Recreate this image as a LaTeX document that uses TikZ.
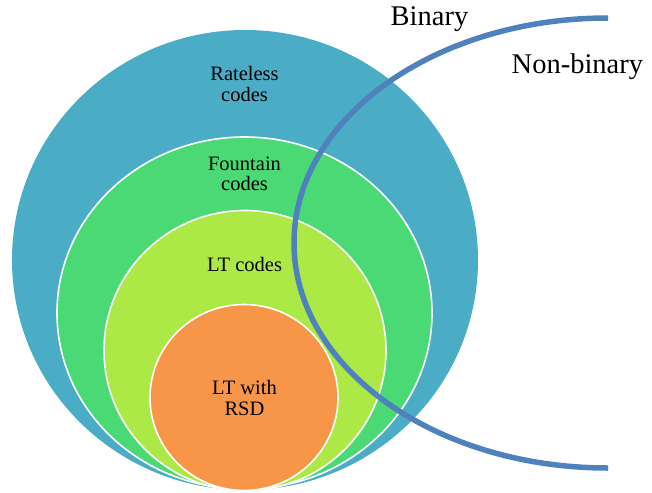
\documentclass[tikz,border=0pt]{standalone}
\usepackage{fontspec}
\setmainfont{Liberation Serif}
\usetikzlibrary{shapes.geometric}

\definecolor{ratelessfill}{RGB}{75,172,198}
\definecolor{fountainfill}{RGB}{74,217,116}
\definecolor{ltfill}{RGB}{172,233,71}
\definecolor{rsdfill}{RGB}{247,150,72}
\definecolor{splitline}{RGB}{79,129,189}

\begin{document}
\begin{tikzpicture}[x=1pt, y=-1pt,
  codeset/.style={ellipse, inner sep=0pt, outer sep=0pt, draw=white, line width=1.6pt},
  setlabel/.style={font=\fontsize{20.5}{20.7}\selectfont, align=center, text=black, inner sep=0pt},
  sidelabel/.style={font=\fontsize{28.5}{30}\selectfont, text=black, inner sep=0pt, anchor=base west},
  divider/.style={draw=splitline, line width=5.5pt}]

\useasboundingbox (0,0) rectangle (652,492);

% nested families of codes
\node[codeset, draw=none, fill=ratelessfill, minimum width=466pt, minimum height=460pt] (rateless) at (245,260) {};
\node[codeset, fill=fountainfill, minimum width=375pt, minimum height=352pt] (fountain) at (244.5,313) {};
\node[codeset, fill=ltfill, minimum width=282pt, minimum height=280pt] (lt) at (245,350.5) {};
\node[codeset, fill=rsdfill, minimum width=188pt, minimum height=186pt] (rsd) at (244,397.5) {};

% binary / non-binary divider
\coordinate (divtop) at (608,18);
\draw[divider] (divtop) arc[start angle=90, end angle=270, x radius=314pt, y radius=225pt] coordinate (divbot);

% labels
\node[setlabel] (ratelesstxt) at (244.5,83.7) {Rateless\\codes};
\node[setlabel] (fountaintxt) at (244.5,173.8) {Fountain\\codes};
\node[setlabel] (lttxt) at (244.5,264.7) {LT codes};
\node[setlabel] (rsdtxt) at (244.5,397.7) {LT with\\RSD};

\node[sidelabel] (binary) at (390.5,26) {Binary};
\node[sidelabel] (nonbinary) at (511.5,73.3) {Non-binary};
\end{tikzpicture}
\end{document}
